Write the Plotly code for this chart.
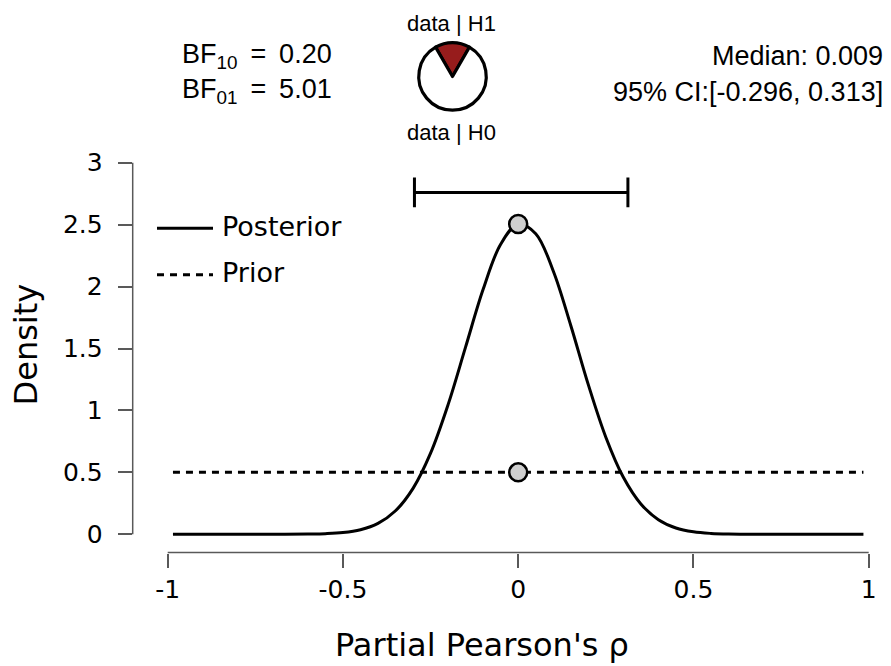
import plotly.graph_objects as go

# ---- data ----
rho = [-0.985, -0.9, -0.8, -0.7, -0.6, -0.55, -0.5, -0.45, -0.4, -0.35, -0.3, -0.25,
       -0.2, -0.15, -0.1, -0.05, 0.0, 0.05, 0.1, 0.15, 0.2, 0.25, 0.3, 0.35, 0.4,
       0.45, 0.5, 0.55, 0.6, 0.7, 0.8, 0.9, 0.985]
posterior = [0.0, 0.0, 0.0, 0.0, 0.002, 0.005, 0.014, 0.037, 0.088, 0.19, 0.371, 0.655,
             1.047, 1.513, 1.978, 2.342, 2.505, 2.427, 2.126, 1.686, 1.208, 0.784, 0.46,
             0.245, 0.118, 0.051, 0.02, 0.007, 0.002, 0.0, 0.0, 0.0, 0.0]
prior_x = [-0.985, 0.985]
prior_y = [0.5, 0.5]
point_x = [0.0, 0.0]
point_y = [2.505, 0.5]       # posterior and prior density at rho = 0
BF10 = 0.20
BF01 = 5.01
median = 0.009
ci_lo, ci_hi = -0.296, 0.313
ci_y = 2.76
ci_cap = 0.12
x_ticks = [-1, -0.5, 0, 0.5, 1]
x_ticklabels = ["-1", "-0.5", "0", "0.5", "1"]
y_ticks = [0, 0.5, 1, 1.5, 2, 2.5, 3]
y_ticklabels = ["0", "0.5", "1", "1.5", "2", "2.5", "3"]

W, H = 891, 666
axfont = "DejaVu Sans"
txtfont = "Liberation Sans"

# plot area in pixels
L, R, T, B = 132.7, 885.0, 150.0, 551.7
xr = [(L - 518.2) / 350.5, (R - 518.2) / 350.5]
yr = [(533.3 - B) / 124.8, (533.3 - T) / 124.8]

fig = go.Figure()

fig.add_trace(go.Scatter(x=prior_x, y=prior_y, mode="lines",
                         line=dict(color="black", width=3, dash="7px,6px"),
                         hoverinfo="skip", showlegend=False))
fig.add_trace(go.Scatter(x=rho, y=posterior, mode="lines",
                         line=dict(color="black", width=3, shape="spline", smoothing=1.0),
                         hoverinfo="skip", showlegend=False))
# credible interval bar
fig.add_trace(go.Scatter(x=[ci_lo, ci_hi, None, ci_lo, ci_lo, None, ci_hi, ci_hi],
                         y=[ci_y, ci_y, None, ci_y - ci_cap, ci_y + ci_cap, None, ci_y - ci_cap, ci_y + ci_cap],
                         mode="lines", line=dict(color="black", width=3),
                         hoverinfo="skip", showlegend=False))
fig.add_trace(go.Scatter(x=point_x, y=point_y, mode="markers",
                         marker=dict(size=18, color="#cfcfcf", line=dict(color="black", width=2.5)),
                         hoverinfo="skip", showlegend=False))

# pie: data | H1 vs data | H0
pr = 34
cx, cy = 452.5, 72
fig.add_trace(go.Pie(values=[BF10, 1.0], labels=["data | H1", "data | H0"],
                     marker=dict(colors=["#971c1c", "white"], line=dict(color="black", width=3.2)),
                     sort=False, direction="clockwise",
                     rotation=-(BF10 / (1 + BF10)) * 360 / 2,
                     textinfo="none", hoverinfo="skip", showlegend=False,
                     domain=dict(x=[(cx - pr) / W, (cx + pr) / W],
                                 y=[1 - (cy + pr) / H, 1 - (cy - pr) / H])))

fig.update_layout(
    width=W, height=H, margin=dict(l=0, r=0, t=0, b=0),
    paper_bgcolor="white", plot_bgcolor="white",
    xaxis=dict(domain=[L / W, R / W], range=xr, showgrid=False, zeroline=False, showline=False,
               tickmode="array", tickvals=x_ticks, ticktext=x_ticklabels,
               ticks="outside", ticklen=14, tickwidth=1.5, tickcolor="#595959",
               tickfont=dict(family=axfont, size=25, color="black"), ticklabelstandoff=0),
    yaxis=dict(domain=[1 - B / H, 1 - T / H], range=yr, showgrid=False, zeroline=False, showline=False,
               tickmode="array", tickvals=y_ticks, ticktext=y_ticklabels,
               ticks="outside", ticklen=14, tickwidth=1.5, tickcolor="#595959",
               tickfont=dict(family=axfont, size=25, color="black"), ticklabelstandoff=10),
    showlegend=False,
)

# axis lines spanning only the tick range
fig.add_shape(type="line", xref="x", yref="y domain", x0=x_ticks[0], x1=x_ticks[-1], y0=0, y1=0,
              line=dict(color="#595959", width=1.5))
fig.add_shape(type="line", xref="x domain", yref="y", x0=0, x1=0, y0=y_ticks[0], y1=y_ticks[-1],
              line=dict(color="#595959", width=1.5))

# legend (manual)
fig.add_shape(type="line", xref="paper", yref="paper", x0=157 / W, x1=213 / W,
              y0=1 - 225 / H, y1=1 - 225 / H, line=dict(color="black", width=3))
fig.add_shape(type="line", xref="paper", yref="paper", x0=157 / W, x1=213 / W,
              y0=1 - 271.7 / H, y1=1 - 271.7 / H, line=dict(color="black", width=3, dash="7px,6px"))

def ann(text, x, y, size, family, xanchor="left", yanchor="middle", angle=0):
    fig.add_annotation(text=text, x=x / W, y=1 - y / H, xref="paper", yref="paper",
                       xanchor=xanchor, yanchor=yanchor, showarrow=False, textangle=angle,
                       font=dict(family=family, size=size, color="black"))

ann("Posterior", 220, 223, 27, axfont)
ann("Prior", 220, 270, 27, axfont)
ann("Partial Pearson's \u03c1", 481.5, 645, 32, axfont, xanchor="center")
ann("Density", 26, 342, 32, axfont, xanchor="center", angle=-90)

ann(f"BF<sub>10</sub>\u2009 = \u2009{BF10:.2f}", 180, 51, 27, txtfont)
ann(f"BF<sub>01</sub>\u2009 = \u2009{BF01:.2f}", 180, 87, 27, txtfont)
ann(f"Median: {median:.3f}", 885, 51, 27, txtfont, xanchor="right")
ann(f"95% CI:[{ci_lo:.3f}, {ci_hi:.3f}]", 885, 88, 27, txtfont, xanchor="right")
ann("data | H1", 451, 19, 22, txtfont, xanchor="center")
ann("data | H0", 451, 128, 22, txtfont, xanchor="center")

fig.write_html("out.html", config={"displayModeBar": False},
               post_script="document.body.style.margin='0';document.body.style.overflow='hidden';")
